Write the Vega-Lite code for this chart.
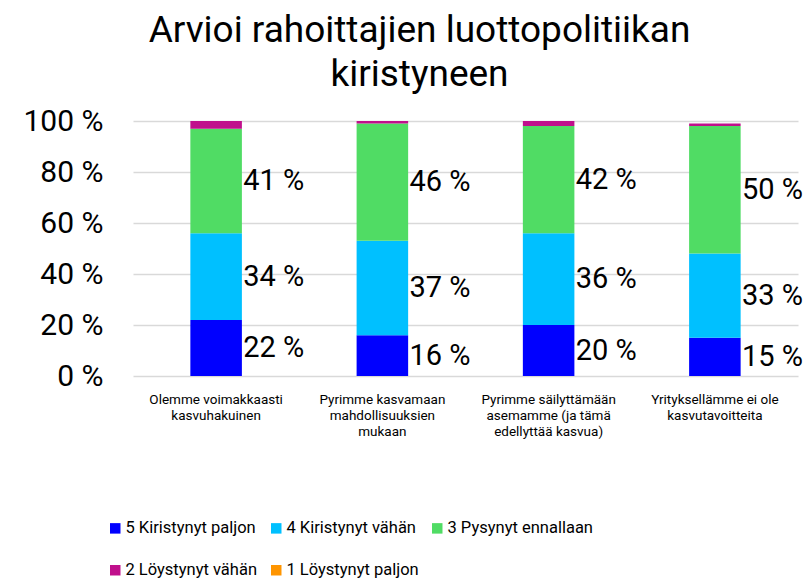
{
  "$schema": "https://vega.github.io/schema/vega-lite/v6.json",
  "autosize": {"type": "none"},
  "width": 665,
  "height": 255,
  "padding": {"left": 133, "top": 121, "right": 11, "bottom": 205},
  "background": "white",
  "config": {
    "font": "Roboto",
    "view": {"stroke": null}
  },
  "title": {
    "text": ["Arvioi rahoittajien luottopolitiikan", "kiristyneen"],
    "fontSize": 37,
    "fontWeight": "normal",
    "color": "#000000",
    "font": "Roboto",
    "lineHeight": 44,
    "anchor": "middle",
    "dx": -46,
    "offset": 12
  },
  "data": {
    "values": [
      {"category": "Olemme voimakkaasti kasvuhakuinen", "series": "5 Kiristynyt paljon", "value": 22},
      {"category": "Olemme voimakkaasti kasvuhakuinen", "series": "4 Kiristynyt vähän", "value": 34},
      {"category": "Olemme voimakkaasti kasvuhakuinen", "series": "3 Pysynyt ennallaan", "value": 41},
      {"category": "Olemme voimakkaasti kasvuhakuinen", "series": "2 Löystynyt vähän", "value": 3},
      {"category": "Olemme voimakkaasti kasvuhakuinen", "series": "1 Löystynyt paljon", "value": 0},
      {"category": "Pyrimme kasvamaan mahdollisuuksien mukaan", "series": "5 Kiristynyt paljon", "value": 16},
      {"category": "Pyrimme kasvamaan mahdollisuuksien mukaan", "series": "4 Kiristynyt vähän", "value": 37},
      {"category": "Pyrimme kasvamaan mahdollisuuksien mukaan", "series": "3 Pysynyt ennallaan", "value": 46},
      {"category": "Pyrimme kasvamaan mahdollisuuksien mukaan", "series": "2 Löystynyt vähän", "value": 1},
      {"category": "Pyrimme kasvamaan mahdollisuuksien mukaan", "series": "1 Löystynyt paljon", "value": 0},
      {"category": "Pyrimme säilyttämään asemamme (ja tämä edellyttää kasvua)", "series": "5 Kiristynyt paljon", "value": 20},
      {"category": "Pyrimme säilyttämään asemamme (ja tämä edellyttää kasvua)", "series": "4 Kiristynyt vähän", "value": 36},
      {"category": "Pyrimme säilyttämään asemamme (ja tämä edellyttää kasvua)", "series": "3 Pysynyt ennallaan", "value": 42},
      {"category": "Pyrimme säilyttämään asemamme (ja tämä edellyttää kasvua)", "series": "2 Löystynyt vähän", "value": 2},
      {"category": "Pyrimme säilyttämään asemamme (ja tämä edellyttää kasvua)", "series": "1 Löystynyt paljon", "value": 0},
      {"category": "Yrityksellämme ei ole kasvutavoitteita", "series": "5 Kiristynyt paljon", "value": 15},
      {"category": "Yrityksellämme ei ole kasvutavoitteita", "series": "4 Kiristynyt vähän", "value": 33},
      {"category": "Yrityksellämme ei ole kasvutavoitteita", "series": "3 Pysynyt ennallaan", "value": 50},
      {"category": "Yrityksellämme ei ole kasvutavoitteita", "series": "2 Löystynyt vähän", "value": 1},
      {"category": "Yrityksellämme ei ole kasvutavoitteita", "series": "1 Löystynyt paljon", "value": 0}
    ]
  },
  "transform": [
    {"stack": "value", "groupby": ["category"], "sort": [{"field": "series", "order": "descending"}], "as": ["v0", "v1"]},
    {"calculate": "(datum.v0 + datum.v1) / 2", "as": "vmid"},
    {"calculate": "datum.value + ' %'", "as": "label"}
  ],
  "encoding": {
    "x": {
      "field": "category",
      "type": "nominal",
      "sort": null,
      "scale": {"paddingInner": 0.69, "paddingOuter": 0.345},
      "axis": {
        "title": null,
        "labelAngle": 0,
        "domain": false,
        "ticks": false,
        "labelFontSize": 13.5,
        "labelColor": "#000000",
        "labelPadding": 16,
        "labelLineHeight": 16,
        "labelBaseline": "top",
        "labelExpr": "datum.value == 'Olemme voimakkaasti kasvuhakuinen' ? ['Olemme voimakkaasti', 'kasvuhakuinen'] : datum.value == 'Pyrimme kasvamaan mahdollisuuksien mukaan' ? ['Pyrimme kasvamaan', 'mahdollisuuksien', 'mukaan'] : datum.value == 'Pyrimme säilyttämään asemamme (ja tämä edellyttää kasvua)' ? ['Pyrimme säilyttämään', 'asemamme (ja tämä', 'edellyttää kasvua)'] : ['Yrityksellämme ei ole', 'kasvutavoitteita']"
      }
    }
  },
  "layer": [
    {
      "mark": {"type": "bar"},
      "encoding": {
        "y": {
          "field": "v1",
          "type": "quantitative",
          "scale": {"domain": [0, 100]},
          "axis": {
            "title": null,
            "values": [0, 20, 40, 60, 80, 100],
            "labelExpr": "datum.value + ' %'",
            "labelFontSize": 30,
            "labelColor": "#000000",
            "labelPadding": 30,
            "domain": false,
            "ticks": false,
            "gridColor": "#d9d9d9",
            "gridWidth": 1.5
          }
        },
        "y2": {"field": "v0"},
        "color": {
          "field": "series",
          "type": "nominal",
          "scale": {
            "domain": ["5 Kiristynyt paljon", "4 Kiristynyt vähän", "3 Pysynyt ennallaan", "2 Löystynyt vähän", "1 Löystynyt paljon"],
            "range": ["#0000FF", "#00C0FF", "#50DC64", "#C0108C", "#FF9500"]
          },
          "legend": {
            "title": null,
            "orient": "none",
            "legendX": -26,
            "legendY": 399,
            "direction": "horizontal",
            "columns": 3,
            "symbolType": "square",
            "symbolSize": 110,
            "symbolStrokeWidth": 0,
            "labelFontSize": 16.5,
            "labelColor": "#000000",
            "labelOffset": 2,
            "columnPadding": 10,
            "rowPadding": 25,
            "padding": 0,
            "labelLimit": 300
          }
        }
      }
    },
    {
      "transform": [{"filter": "datum.value >= 10"}],
      "mark": {"type": "text", "align": "left", "baseline": "middle", "dx": 27, "fontSize": 29, "color": "#000000"},
      "encoding": {
        "y": {"field": "vmid", "type": "quantitative"},
        "text": {"field": "label", "type": "nominal"}
      }
    }
  ]
}
